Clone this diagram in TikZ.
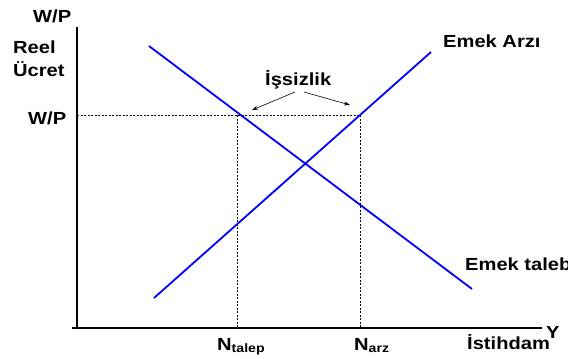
\documentclass[tikz,border=0pt]{standalone}
\usepackage{fontspec}
\setmainfont{Liberation Sans}[FakeStretch=1.15]
\usetikzlibrary{arrows.meta}
\begin{document}
\begin{tikzpicture}[x=1pt,y=-1pt,
  lbl/.style={font=\bfseries\fontsize{17.5}{19}\selectfont, inner sep=0pt, anchor=base west},
  axis/.style={line width=1.4pt, black},
  curve/.style={line width=1.8pt, blue},
  guide/.style={dashed, dash pattern=on 2pt off 1.5pt, line width=0.6pt},
  pointer/.style={line width=0.6pt, -{Stealth[length=6pt,width=4pt]}}]
\useasboundingbox (0,0) rectangle (568,359);
% axes
\coordinate (o) at (77,328);
\coordinate (ytop) at (77,27);
\coordinate (xend) at (542,328);
\coordinate (xstart) at (72,328);
\draw[axis] (ytop) -- (o);
\draw[axis] (xstart) -- (xend);
% curves
\coordinate (d1) at (149,46);
\coordinate (d2) at (472,289);
\coordinate (s1) at (154,298);
\coordinate (s2) at (431,52);
\draw[curve] (d1) -- (d2);
\draw[curve] (s1) -- (s2);
% guides
\coordinate (wp) at (77,115);
\coordinate (ed) at (237,115);
\coordinate (es) at (360,115);
\coordinate (nd) at (237,328);
\coordinate (ns) at (360,328);
\draw[guide] (wp) -- (es);
\draw[guide] (ed) -- (nd);
\draw[guide] (es) -- (ns);
% labels
\node[lbl] (wptop) at (33,22) {W/P};
\node[lbl] (reel) at (13,53) {Reel};
\node[lbl] (ucret) at (13,76) {Ücret};
\node[lbl] (wpl) at (28,124) {W/P};
\node[lbl] (issiz) at (265,85) {İşsizlik};
\node[lbl] (arz) at (443,47) {Emek Arzı};
\node[lbl] (talebi) at (465,270) {Emek talebi};
\node[lbl] (ntalep) at (217,350) {N\textsubscript{talep}};
\node[lbl] (narz) at (354,350) {N\textsubscript{arz}};
\node[lbl] (ist) at (467,349) {İstihdam};
\node[lbl] (yy) at (546,338) {Y};
% pointers
\coordinate (p1) at (295,92);
\coordinate (p2) at (304,92);
\coordinate (t1) at (252,110);
\coordinate (t2) at (350,105);
\draw[pointer] (p1) -- (t1);
\draw[pointer] (p2) -- (t2);
\end{tikzpicture}
\end{document}
